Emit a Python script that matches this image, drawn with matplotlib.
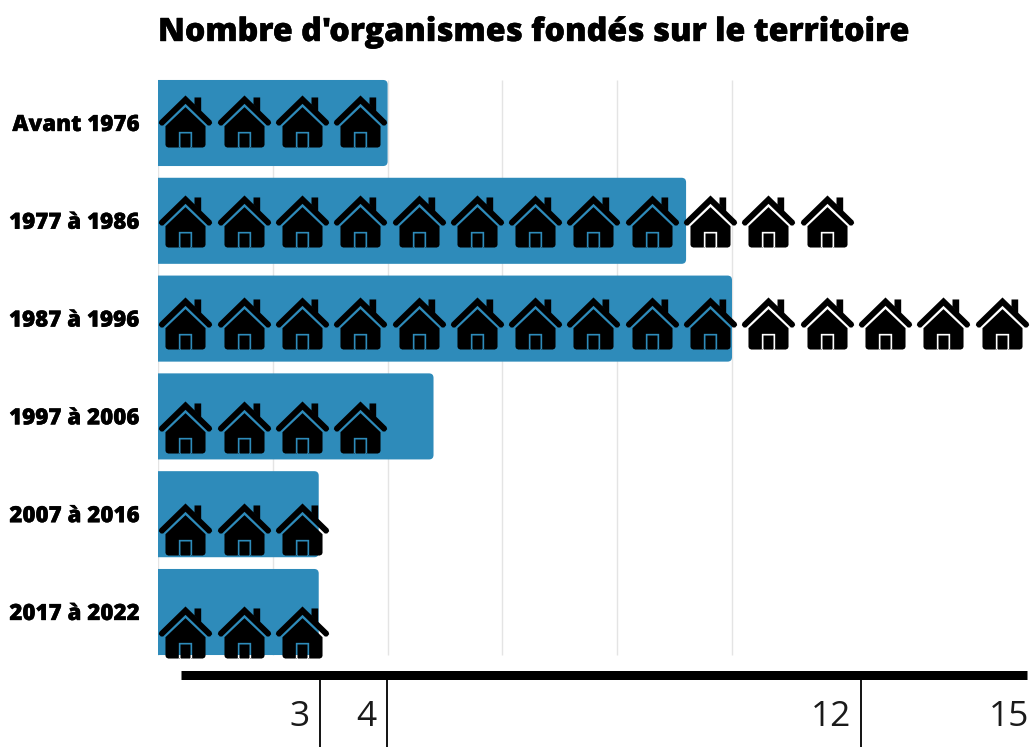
import matplotlib
matplotlib.use("Agg")
import matplotlib.pyplot as plt
import matplotlib.patheffects as pe
from matplotlib.path import Path
from matplotlib.patches import PathPatch
from matplotlib.transforms import ScaledTranslation
import numpy as np

# data
periods = ["Avant 1976", "1977 à 1986", "1987 à 1996", "1997 à 2006", "2007 à 2016", "2017 à 2022"]
bar_values = [4, 9.2, 10, 4.8, 2.8, 2.8]
icon_counts = [4, 12, 15, 4, 3, 3]
icon_rows = [-0.02, 1.002, 2.048, 3.105, 4.154, 5.20]
grid_values = [0, 2, 4, 6, 8, 10]
axis_ticks = [2.82, 3.99, 12.25, 15.36]
axis_labels = ["3", "4", "12", "15"]

BLUE = "#2e8bba"
PX_X = 57.4    # pixels per unit on x
PX_Y = 97.8    # pixels per row on y
DPI = 100
BAR_H = 0.88


def house_marker():
    # drawn in zoomed pixel units, flipped and centred below
    roof = [(108, 76), (186, 152), (188, 159), (182, 166), (175, 166), (108, 101),
            (41, 166), (34, 166), (28, 159), (30, 152)]
    chimney = [(135, 82), (155, 82), (155, 122), (135, 102)]
    body = [(108, 111), (168, 168), (168, 224), (166, 229), (160, 232), (56, 232),
            (50, 229), (48, 224), (48, 168)]
    # door frame has the opposite winding so it shows what is behind
    frame = [(88, 233), (128, 233), (128, 185), (88, 185)]
    door = [(93, 233), (93, 190), (123, 190), (123, 233)]
    verts, codes = [], []
    for poly, rev in [(roof, False), (chimney, False), (body, False), (frame, True), (door, False)]:
        pts = list(poly)
        area = sum(pts[i][0] * pts[(i + 1) % len(pts)][1] - pts[(i + 1) % len(pts)][0] * pts[i][1]
                   for i in range(len(pts)))
        if (area < 0) != rev:
            pts = pts[::-1]
        verts += pts + [pts[0]]
        codes += [Path.MOVETO] + [Path.LINETO] * (len(pts) - 1) + [Path.CLOSEPOLY]
    v = np.array(verts, dtype=float)
    v[:, 0] -= 108
    v[:, 1] = 154 - v[:, 1]
    return Path(v, codes)


def bar_path(row, value, rx=4.5 / PX_X, ry=4.5 / PX_Y):
    top, bot = row - BAR_H / 2, row + BAR_H / 2
    verts = [(0, top), (value - rx, top), (value, top), (value, top + ry),
             (value, bot - ry), (value, bot), (value - rx, bot), (0, bot), (0, top)]
    codes = [Path.MOVETO, Path.LINETO, Path.CURVE3, Path.CURVE3,
             Path.LINETO, Path.CURVE3, Path.CURVE3, Path.LINETO, Path.CLOSEPOLY]
    return Path(verts, codes)


plt.rcParams["font.family"] = ["Open Sans", "DejaVu Sans"]

fig = plt.figure(figsize=(10.35, 7.47), dpi=DPI)
ax = fig.add_axes([158 / 1035, 0, 877 / 1035, 1])
ax.set_xlim(0, 877 / PX_X)
ax.set_ylim((747 - 123) / PX_Y, -123 / PX_Y)

rows = np.arange(len(periods))

# grid stops at the end of the bar scale
ax.vlines(grid_values, -BAR_H / 2, rows[-1] + BAR_H / 2, color="#e4e4e4", lw=1, zorder=1)

for row, value in zip(rows, bar_values):
    ax.add_patch(PathPatch(bar_path(row, value), fc=BLUE, ec="none", zorder=2))

# houses sit on their own scale, a bit wider than the bars
house = house_marker()
for icon_row, count in zip(icon_rows, icon_counts):
    xs = 0.476 + np.arange(count) * 1.0157
    ys = np.full(count, icon_row)
    ax.plot(xs, ys, ls="none", marker=house, ms=53.4 * 72 / DPI, mfc="black", mew=0, zorder=3)

# the font has no heavier cut here, a thin stroke thickens it
heavy = [pe.withStroke(linewidth=0.25, foreground="black")]

# y labels
ax.set_yticks(rows, periods, fontsize=16.1, fontweight=800, color="black")
ax.tick_params(axis="y", length=0, pad=13)
for lab in ax.get_yticklabels():
    lab.set_path_effects(heavy)
    lab.set_transform(lab.get_transform() + ScaledTranslation(0, 1 / DPI, fig.dpi_scale_trans))

# bottom axis
axis_y = (675.3 - 123) / PX_Y
for name in ["top", "left", "right"]:
    ax.spines[name].set_visible(False)
ax.spines["bottom"].set_position(("data", axis_y))
ax.spines["bottom"].set_linewidth(9 * 72 / DPI)
ax.spines["bottom"].set_capstyle("butt")
ax.spines["bottom"].set_bounds(23 / PX_X, (1027 - 158) / PX_X)
ax.set_xticks(axis_ticks[:3], [])
ax.tick_params(axis="x", length=72 * 72 / DPI, width=1.3, color="black")

for tick, label in zip(axis_ticks, axis_labels):
    ax.annotate(label, xy=(tick, axis_y), xytext=(-10.5 * 72 / DPI, -51 * 72 / DPI),
                textcoords="offset points", ha="right", va="baseline",
                fontsize=25.5, color="#1a1a1a", annotation_clip=False)

title = fig.text(158 / 1035, 1 - 41 / 747, "Nombre d'organismes fondés sur le territoire",
                 fontsize=23.2, fontweight=800, color="black", ha="left", va="baseline")
title.set_path_effects([pe.withStroke(linewidth=0.3, foreground="black")])

fig.savefig("out.png", dpi=DPI)
